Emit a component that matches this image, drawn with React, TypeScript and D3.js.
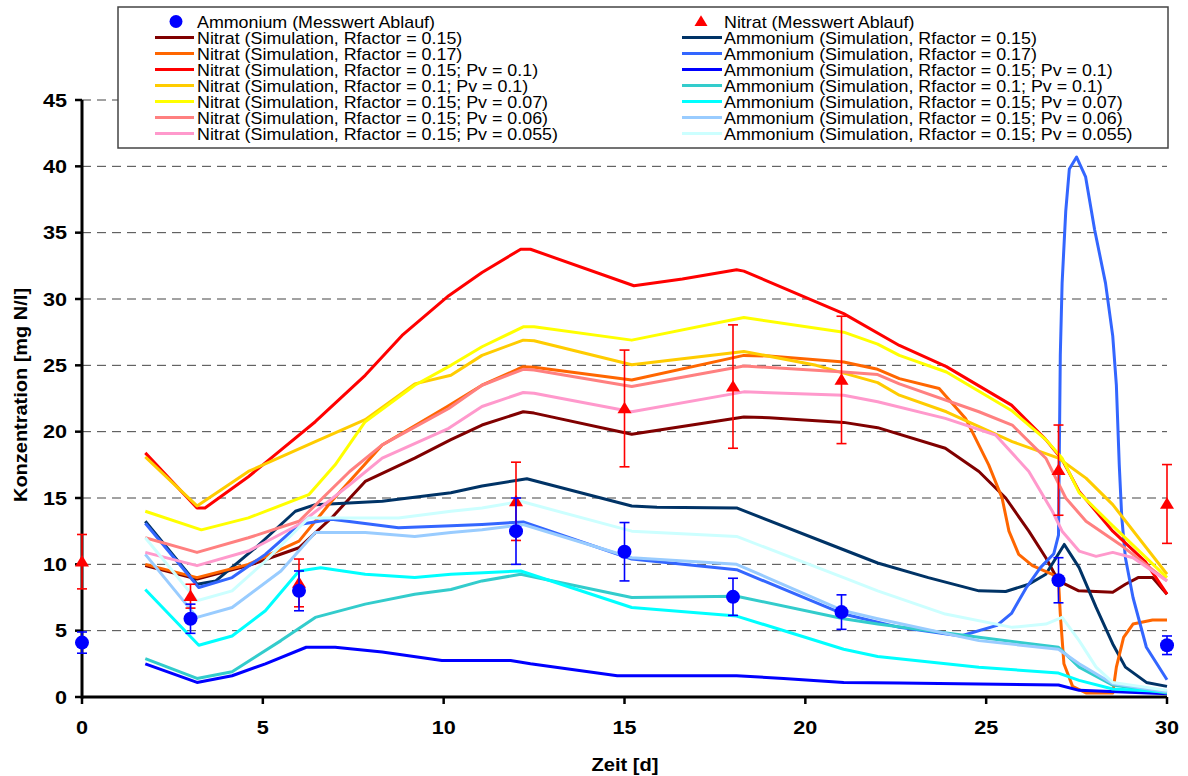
import React from "react";
import * as d3 from "d3";

// ---------- measured data ----------
const ammoniumDays = [0, 3, 6, 12, 15, 18, 21, 27, 30];
const ammoniumValues = [4.1, 5.9, 8.0, 12.5, 10.95, 7.55, 6.4, 8.8, 3.9];
const ammoniumErr = [0.8, 1.1, 1.5, 2.5, 2.2, 1.4, 1.3, 1.7, 0.7];

const nitrateDays = [0, 3, 6, 12, 15, 18, 21, 27, 30];
const nitrateValues = [10.2, 7.6, 8.6, 14.75, 21.75, 23.4, 23.9, 17.1, 14.55];
const nitrateErr = [2.05, 0.9, 1.8, 2.95, 4.4, 4.65, 4.8, 3.4, 2.97];

// ---------- simulated series: [day, value] ----------
const nitR015: [number, number][] = [
  [1.75, 9.9], [3.18, 8.9], [4.6, 9.9], [6.0, 11.25], [6.9, 13.5], [7.83, 16.25], [9.2, 18.0], [10.2, 19.4],
  [11.06, 20.5], [12.2, 21.5], [12.5, 21.4], [15.2, 19.8], [18.3, 21.1], [19, 21.05], [21.06, 20.7], [22.0, 20.3],
  [23.87, 18.75], [24.8, 17.0], [25.54, 15.0], [26.18, 12.5], [26.65, 10.5], [27.0, 8.75], [27.56, 8.0],
  [28.5, 7.9], [28.85, 8.5], [29.2, 9.0], [29.6, 9.0], [30, 7.75],
];
const nitR017: [number, number][] = [
  [1.75, 10.0], [3.18, 9.0], [4.6, 10.0], [6.0, 11.75], [6.9, 14.75], [8.3, 19.0], [10.1, 21.9], [11.06, 23.5],
  [12.2, 24.9], [12.5, 24.85], [15.2, 23.9], [18.3, 25.75], [19, 25.7], [21.06, 25.25], [22.0, 24.7], [22.6, 24.0],
  [23.7, 23.25], [24.43, 21.0], [25.07, 17.5], [25.44, 15.0], [25.63, 12.5], [25.9, 10.75], [26.28, 9.9],
  [26.83, 9.25], [27.0, 8.75], [27.05, 6.25], [27.15, 2.5], [27.39, 0.8], [27.76, 0.3], [28.5, 0.3], [28.6, 2.25],
  [28.8, 4.5], [29.06, 5.5], [29.6, 5.8], [30, 5.8],
];
const nitR015Pv01: [number, number][] = [
  [1.75, 18.4], [3.18, 14.25], [3.4, 14.25], [4.6, 16.6], [6.45, 20.75], [7.83, 24.25], [8.85, 27.25], [10.14, 30.25],
  [11.06, 32.0], [12.13, 33.75], [12.4, 33.75], [15.26, 31.0], [16.6, 31.5], [18.1, 32.2], [18.3, 32.1], [21.06, 28.9],
  [22.6, 26.5], [23.9, 24.9], [25.7, 22.0], [26.65, 19.4], [27.1, 17.9], [27.57, 15.5], [28.5, 12.5], [29.4, 10.2],
  [30, 7.75],
];
const nitR01Pv01: [number, number][] = [
  [1.75, 18.1], [3.18, 14.4], [4.6, 17.0], [6.45, 19.25], [7.83, 20.9], [9.2, 23.6], [10.2, 24.25], [11.06, 25.75],
  [12.2, 26.9], [12.5, 26.85], [15.2, 25.05], [18.3, 26.05], [20.3, 25.0], [22.0, 23.7], [22.6, 22.75], [23.9, 21.5],
  [25.72, 19.25], [27, 18.0], [27.76, 16.5], [28.5, 14.5], [30, 9.25],
];
const nitR015Pv007: [number, number][] = [
  [1.75, 14.0], [3.3, 12.6], [4.6, 13.5], [6.27, 15.25], [7.0, 17.5], [7.83, 20.75], [9.2, 23.5], [10.2, 25.0],
  [11.06, 26.4], [12.2, 27.9], [12.5, 27.9], [15.2, 26.9], [18.3, 28.6], [21.06, 27.5], [22.0, 26.6], [22.6, 25.75],
  [23.9, 24.5], [25.7, 21.6], [26.65, 19.4], [27.1, 18.0], [27.57, 15.4], [28.5, 12.9], [30, 9.0],
];
const nitR015Pv006: [number, number][] = [
  [1.75, 12.0], [3.18, 10.9], [4.6, 12.0], [6.0, 13.25], [7.4, 17.0], [8.3, 19.0], [10.14, 21.75], [11.06, 23.5],
  [12.2, 24.7], [12.5, 24.65], [15.2, 23.4], [18.3, 24.95], [21.06, 24.5], [22.0, 24.3], [22.6, 23.6], [24.8, 21.5],
  [25.72, 20.5], [26.65, 18.0], [27.2, 15.0], [27.76, 13.25], [28.7, 11.5], [30, 8.75],
];
const nitR015Pv0055: [number, number][] = [
  [1.75, 10.9], [3.18, 9.9], [4.6, 11.0], [6.0, 13.0], [7.4, 16.0], [8.3, 18.0], [10.14, 20.25], [11.06, 21.9],
  [12.2, 22.95], [12.5, 22.9], [15.2, 21.5], [18.3, 23.0], [21.06, 22.75], [22.0, 22.25], [23.87, 21.0],
  [25.26, 19.75], [26.18, 17.0], [26.83, 14.0], [27.1, 12.5], [27.57, 11.0], [28.04, 10.6], [28.5, 10.9],
  [29.06, 10.5], [30, 8.75],
];
const ammR015: [number, number][] = [
  [1.75, 13.25], [3.18, 8.5], [3.7, 8.75], [4.8, 11.25], [5.9, 14.0], [6.45, 14.5], [8.3, 14.75], [10.2, 15.4],
  [11.06, 15.9], [12.3, 16.45], [15.2, 14.4], [15.9, 14.3], [18.1, 14.25], [21.06, 11.1], [22.0, 10.1], [23.4, 9.0],
  [24.8, 8.0], [25.54, 7.95], [26.18, 8.5], [26.65, 9.25], [27.16, 11.5], [27.57, 9.75], [28.04, 6.75], [28.5, 4.0],
  [28.85, 2.25], [29.43, 1.1], [30, 0.8],
];
const ammR017: [number, number][] = [
  [1.75, 13.1], [3.23, 8.25], [4.15, 9.0], [5.07, 10.75], [6.0, 13.0], [6.9, 13.4], [8.75, 12.75], [10.2, 12.9],
  [11.06, 13.0], [12.2, 13.2], [15.2, 10.4], [18.1, 9.6], [21.06, 6.25], [22.6, 5.25], [24.3, 4.6], [25.3, 5.4],
  [25.7, 6.3], [26.1, 8.2], [26.5, 9.75], [26.87, 10.8], [27.0, 12.2], [27.05, 25.8], [27.1, 31.2], [27.2, 36.6],
  [27.3, 39.8], [27.5, 40.7], [27.75, 39.2], [28.0, 35.2], [28.3, 31.2], [28.5, 27.2], [28.6, 23.5], [28.68, 17.5],
  [28.75, 13.5], [28.85, 10.5], [29.06, 7.5], [29.43, 3.75], [30, 1.3],
];
const ammR015Pv01: [number, number][] = [
  [1.75, 2.5], [3.18, 1.1], [4.15, 1.6], [5.07, 2.5], [6.2, 3.75], [7.0, 3.75], [8.3, 3.4], [9.95, 2.75],
  [11.85, 2.75], [12.4, 2.5], [14.8, 1.6], [18.1, 1.6], [19.4, 1.4], [21.06, 1.1], [22.6, 1.05], [27, 0.9],
  [27.57, 0.5], [30, 0.25],
];
const ammR01Pv01: [number, number][] = [
  [1.75, 2.9], [3.18, 1.4], [4.15, 1.9], [5.5, 4.25], [6.45, 6.0], [7.83, 7.0], [9.2, 7.75], [10.2, 8.1],
  [11.06, 8.75], [12.13, 9.25], [15.2, 7.5], [18.1, 7.6], [21.06, 5.9], [22.0, 5.5], [24.8, 4.5], [27, 3.75],
  [27.57, 2.25], [28.5, 0.9], [30, 0.3],
];
const ammR015Pv007: [number, number][] = [
  [1.75, 8.1], [3.23, 3.9], [4.15, 4.6], [5.07, 6.5], [6.0, 9.5], [6.6, 9.75], [7.83, 9.25], [9.2, 9.0],
  [10.2, 9.25], [12.13, 9.5], [15.2, 6.75], [18.1, 6.1], [21.06, 3.6], [22.0, 3.05], [24.8, 2.25], [27, 1.8],
  [27.57, 1.25], [28.5, 0.6], [30, 0.4],
];
const ammR015Pv006: [number, number][] = [
  [1.75, 10.75], [3.18, 6.0], [4.15, 6.75], [5.5, 9.5], [6.45, 12.4], [7.83, 12.4], [9.2, 12.1], [10.2, 12.4],
  [11.06, 12.6], [12.2, 13.0], [15.2, 10.5], [18.1, 10.0], [21.06, 6.5], [22.0, 5.9], [24.8, 4.25], [27.0, 3.6],
  [27.57, 2.5], [28.5, 1.0], [30, 0.4],
];
const ammR015Pv0055: [number, number][] = [
  [1.75, 12.0], [3.18, 7.25], [4.15, 8.0], [5.07, 10.25], [6.27, 13.5], [8.75, 13.5], [10.2, 14.0], [11.06, 14.25],
  [12.13, 14.75], [15.2, 12.5], [18.1, 12.1], [21.06, 9.0], [22.0, 8.0], [23.87, 6.25], [25.72, 5.25],
  [26.65, 5.5], [27.1, 6.0], [27.57, 4.25], [28.04, 2.25], [28.5, 1.1], [30, 0.5],
];

const nitrateLabels = [
  "Nitrat (Simulation, Rfactor = 0.15)",
  "Nitrat (Simulation, Rfactor = 0.17)",
  "Nitrat (Simulation, Rfactor = 0.15; Pv = 0.1)",
  "Nitrat (Simulation, Rfactor = 0.1; Pv = 0.1)",
  "Nitrat (Simulation, Rfactor = 0.15; Pv = 0.07)",
  "Nitrat (Simulation, Rfactor = 0.15; Pv = 0.06)",
  "Nitrat (Simulation, Rfactor = 0.15; Pv = 0.055)",
];
const ammoniumLabels = [
  "Ammonium (Simulation, Rfactor = 0.15)",
  "Ammonium (Simulation, Rfactor = 0.17)",
  "Ammonium (Simulation, Rfactor = 0.15; Pv = 0.1)",
  "Ammonium (Simulation, Rfactor = 0.1; Pv = 0.1)",
  "Ammonium (Simulation, Rfactor = 0.15; Pv = 0.07)",
  "Ammonium (Simulation, Rfactor = 0.15; Pv = 0.06)",
  "Ammonium (Simulation, Rfactor = 0.15; Pv = 0.055)",
];
const nitrateColors = ["#800000", "#FF6600", "#FF0000", "#FFCC00", "#FFFF00", "#FF8080", "#FF99CC"];
const ammoniumColors = ["#003366", "#3366FF", "#0000FF", "#33CCCC", "#00FFFF", "#99CCFF", "#CCFFFF"];
const nitrateSeries = [nitR015, nitR017, nitR015Pv01, nitR01Pv01, nitR015Pv007, nitR015Pv006, nitR015Pv0055];
const ammoniumSeries = [ammR015, ammR017, ammR015Pv01, ammR01Pv01, ammR015Pv007, ammR015Pv006, ammR015Pv0055];

const xTicks = [0, 5, 10, 15, 20, 25, 30];
const yTicks = [0, 5, 10, 15, 20, 25, 30, 35, 40, 45];

const W = 1188;
const H = 776;
const FONT = "'Liberation Sans', Arial, sans-serif";

function SText(props: {
  x: number; y: number; sx: number; anchor?: string; size: number; bold?: boolean; rotate?: number; children: React.ReactNode;
}) {
  const { x, y, sx, anchor, size, bold, rotate, children } = props;
  return (
    <text
      transform={`translate(${x},${y})${rotate ? ` rotate(${rotate})` : ""} scale(${sx},1)`}
      textAnchor={anchor || "start"}
      fontFamily={FONT}
      fontSize={size}
      fontWeight={bold ? "bold" : "normal"}
      fill="#000"
    >
      {children}
    </text>
  );
}

export default function App() {
  const x = d3.scaleLinear().domain([0, 30]).range([82, 1167]);
  const y = d3.scaleLinear().domain([0, 45]).range([697, 100]);
  const line = d3
    .line<[number, number]>()
    .x((d) => x(d[0]))
    .y((d) => y(d[1]))
    .curve(d3.curveLinear);

  // interleaved draw order as in the legend: Nitrat i, Ammonium i
  const drawOrder: { data: [number, number][]; color: string }[] = [];
  for (let i = 0; i < 7; i++) {
    drawOrder.push({ data: nitrateSeries[i], color: nitrateColors[i] });
    drawOrder.push({ data: ammoniumSeries[i], color: ammoniumColors[i] });
  }

  const legendLeftX = 197;
  const legendRightX = 724;
  const rowY = (i: number) => 21.5 + i * 16;
  const tri = (cx: number, cy: number, s: number) =>
    `M${cx},${cy - s * 0.95} L${cx + s},${cy + s * 0.7} L${cx - s},${cy + s * 0.7} Z`;
  const LS = 1.05;

  return (
    <div style={{ position: "absolute", left: 0, top: 0 }}>
      <svg width={W} height={H} style={{ display: "block", background: "#fff" }}>
        {/* gridlines */}
        {yTicks.filter((t) => t > 0).map((t) => (
          <line key={"g" + t} x1={x(0)} x2={x(30)} y1={y(t)} y2={y(t)} stroke="#444" strokeWidth={1} strokeDasharray="9,6" />
        ))}

        {/* legend */}
        <rect x={118} y={7} width={1050} height={141} fill="#fff" stroke="#444" strokeWidth={1.5} />
        <circle cx={176} cy={rowY(0)} r={6.5} fill="#0000FF" />
        <SText x={legendLeftX} y={rowY(0) + 6} sx={LS} size={17}>Ammonium (Messwert Ablauf)</SText>
        <path d={tri(701, rowY(0), 6.5)} fill="#FF0000" />
        <SText x={legendRightX} y={rowY(0) + 6} sx={LS} size={17}>Nitrat (Messwert Ablauf)</SText>
        {nitrateLabels.map((lab, i) => (
          <g key={"ln" + i}>
            <line x1={155} x2={194} y1={rowY(i + 1)} y2={rowY(i + 1)} stroke={nitrateColors[i]} strokeWidth={3} />
            <SText x={legendLeftX} y={rowY(i + 1) + 6} sx={LS} size={17}>{lab}</SText>
          </g>
        ))}
        {ammoniumLabels.map((lab, i) => (
          <g key={"la" + i}>
            <line x1={682} x2={722} y1={rowY(i + 1)} y2={rowY(i + 1)} stroke={ammoniumColors[i]} strokeWidth={3} />
            <SText x={legendRightX} y={rowY(i + 1) + 6} sx={LS} size={17}>{lab}</SText>
          </g>
        ))}

        {/* simulated lines */}
        {drawOrder.map((s, i) => (
          <path key={"s" + i} d={line(s.data) || ""} fill="none" stroke={s.color} strokeWidth={3} strokeLinejoin="round" />
        ))}

        {/* axes */}
        <line x1={x(0)} x2={x(30)} y1={y(0)} y2={y(0)} stroke="#000" strokeWidth={3} />
        <line x1={x(0)} x2={x(0)} y1={y(0) + 1.5} y2={y(45)} stroke="#000" strokeWidth={3} />
        {yTicks.map((t) => (
          <g key={"yt" + t}>
            <line x1={x(0) - 7} x2={x(0)} y1={y(t)} y2={y(t)} stroke="#000" strokeWidth={2.5} />
            <SText x={67} y={y(t) + 6.5} sx={1.2} anchor="end" size={18} bold>{t}</SText>
          </g>
        ))}
        {xTicks.map((t) => (
          <g key={"xt" + t}>
            <line x1={x(t)} x2={x(t)} y1={y(0)} y2={y(0) + 7} stroke="#000" strokeWidth={2.5} />
            <SText x={x(t)} y={734} sx={1.2} anchor="middle" size={18} bold>{t}</SText>
          </g>
        ))}
        <SText x={625} y={771} sx={1.12} anchor="middle" size={18} bold>Zeit [d]</SText>
        <SText x={27} y={395} sx={1.11} anchor="middle" size={18} bold rotate={-90}>Konzentration [mg N/l]</SText>

        {/* measured nitrate */}
        {nitrateDays.map((d, i) => {
          const cx = x(d);
          const y1 = y(nitrateValues[i] + nitrateErr[i]);
          const y2 = y(nitrateValues[i] - nitrateErr[i]);
          return (
            <g key={"n" + i} stroke="#FF0000" strokeWidth={1.6}>
              <line x1={cx} x2={cx} y1={y1} y2={y2} />
              <line x1={cx - 5} x2={cx + 5} y1={y1} y2={y1} />
              <line x1={cx - 5} x2={cx + 5} y1={y2} y2={y2} />
              <path d={tri(cx, y(nitrateValues[i]), 7)} fill="#FF0000" stroke="none" />
            </g>
          );
        })}
        {/* measured ammonium */}
        {ammoniumDays.map((d, i) => {
          const cx = x(d);
          const y1 = y(ammoniumValues[i] + ammoniumErr[i]);
          const y2 = y(ammoniumValues[i] - ammoniumErr[i]);
          return (
            <g key={"a" + i} stroke="#0000FF" strokeWidth={1.6}>
              <line x1={cx} x2={cx} y1={y1} y2={y2} />
              <line x1={cx - 5} x2={cx + 5} y1={y1} y2={y1} />
              <line x1={cx - 5} x2={cx + 5} y1={y2} y2={y2} />
              <circle cx={cx} cy={y(ammoniumValues[i])} r={7} fill="#0000FF" stroke="none" />
            </g>
          );
        })}
      </svg>
    </div>
  );
}
